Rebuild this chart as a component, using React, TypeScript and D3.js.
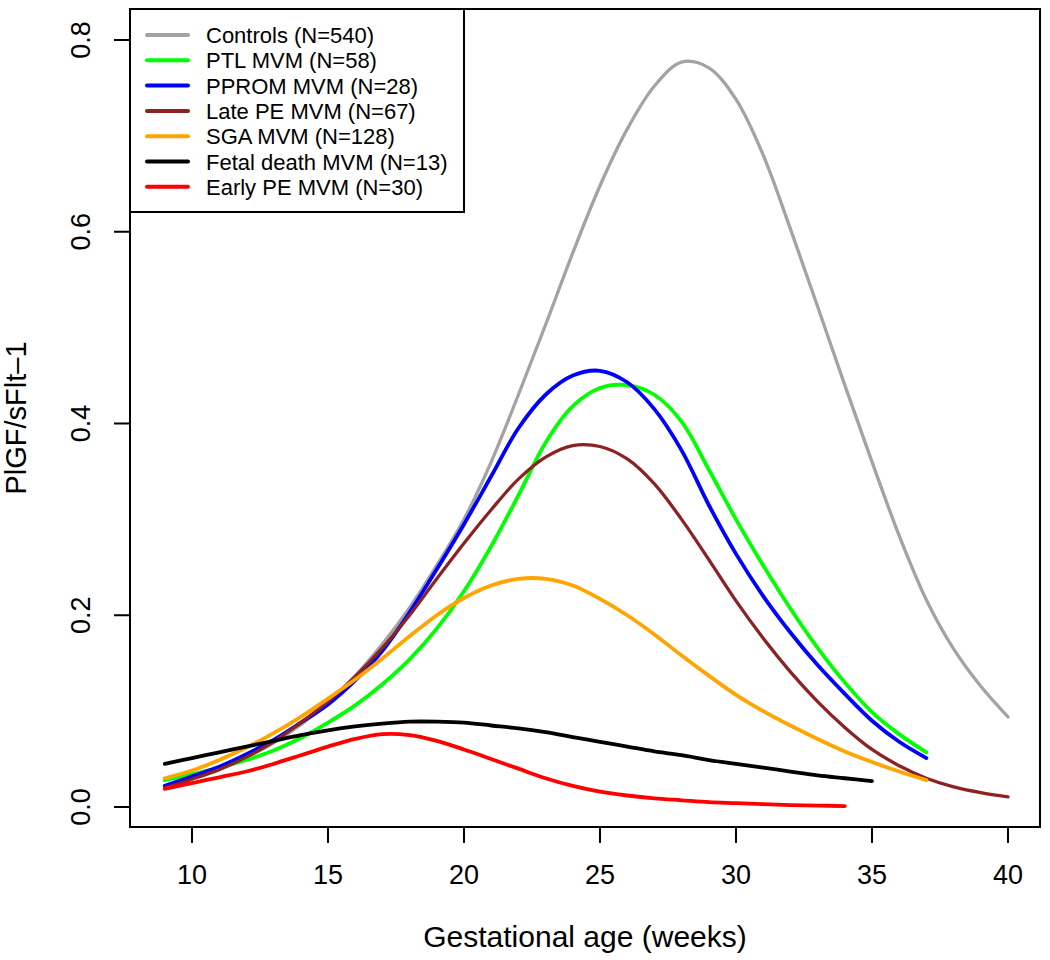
import * as d3 from "d3";

// gestational age (weeks) for the fitted curves
const weeks = [9, 10, 11, 12, 13, 14, 15, 16, 17, 18, 19, 20, 21, 22, 23, 24, 25, 26, 27, 28, 29, 30, 31, 32, 33, 34, 35, 36, 37, 38, 39, 40];

const controls = [0.022, 0.03, 0.04, 0.052, 0.067, 0.086, 0.109, 0.137, 0.17, 0.208, 0.252, 0.3, 0.36, 0.43, 0.503, 0.578, 0.648, 0.707, 0.752, 0.777, 0.771, 0.738, 0.68, 0.603, 0.522, 0.44, 0.36, 0.283, 0.216, 0.165, 0.126, 0.094];
const ptl = [0.028, 0.034, 0.041, 0.049, 0.059, 0.072, 0.088, 0.106, 0.128, 0.154, 0.186, 0.225, 0.272, 0.325, 0.38, 0.418, 0.437, 0.44, 0.43, 0.402, 0.352, 0.3, 0.252, 0.207, 0.166, 0.13, 0.099, 0.076, 0.057];
const pprom = [0.022, 0.032, 0.042, 0.055, 0.07, 0.088, 0.107, 0.132, 0.163, 0.203, 0.248, 0.295, 0.345, 0.395, 0.43, 0.45, 0.455, 0.443, 0.415, 0.372, 0.315, 0.264, 0.22, 0.182, 0.148, 0.118, 0.09, 0.068, 0.051];
const latePE = [0.02, 0.029, 0.039, 0.052, 0.068, 0.088, 0.11, 0.136, 0.166, 0.2, 0.238, 0.275, 0.31, 0.342, 0.365, 0.377, 0.376, 0.363, 0.337, 0.3, 0.258, 0.215, 0.176, 0.141, 0.11, 0.083, 0.06, 0.043, 0.03, 0.021, 0.015, 0.0105];
const sga = [0.03, 0.038, 0.049, 0.062, 0.077, 0.094, 0.113, 0.133, 0.155, 0.178, 0.2, 0.218, 0.231, 0.238, 0.238, 0.231, 0.217, 0.2, 0.18, 0.158, 0.137, 0.117, 0.1, 0.085, 0.071, 0.058, 0.047, 0.037, 0.028];
const fetalDeath = [0.045, 0.051, 0.057, 0.063, 0.069, 0.075, 0.08, 0.084, 0.087, 0.089, 0.089, 0.088, 0.085, 0.082, 0.078, 0.073, 0.068, 0.063, 0.058, 0.054, 0.049, 0.045, 0.041, 0.037, 0.033, 0.03, 0.027];
const earlyPE = [0.019, 0.025, 0.031, 0.037, 0.045, 0.054, 0.063, 0.071, 0.076, 0.075, 0.069, 0.06, 0.05, 0.04, 0.03, 0.022, 0.016, 0.012, 0.009, 0.007, 0.005, 0.004, 0.003, 0.002, 0.0015, 0.001];

const seriesNames = ["Controls (N=540)", "PTL MVM (N=58)", "PPROM MVM (N=28)", "Late PE MVM (N=67)", "SGA MVM (N=128)", "Fetal death MVM (N=13)", "Early PE MVM (N=30)"];
const seriesValues = [controls, ptl, pprom, latePE, sga, fetalDeath, earlyPE];
const seriesColors = ["#a3a3a3", "#00ff00", "#0000ff", "#8b2323", "#ffa500", "#000000", "#ff0000"];

const xTicks = [10, 15, 20, 25, 30, 35, 40];
const yTicks = [0, 0.2, 0.4, 0.6, 0.8];

const W = 1050;
const H = 960;
const box = { left: 130, right: 1040, top: 9, bottom: 827 };
const font = "'Liberation Sans', Arial, Helvetica, sans-serif";

export default function App() {
  const x = d3.scaleLinear().domain([10, 40]).range([192, 1008]);
  const y = d3.scaleLinear().domain([0, 0.8]).range([807, 40]);

  const line = d3
    .line<[number, number]>()
    .x((d) => x(d[0]))
    .y((d) => y(d[1]))
    .curve(d3.curveCatmullRom.alpha(0.5));

  const legendRowY = (i: number) => 35 + i * 25.3;

  return (
    <svg width={W} height={H} style={{ position: "absolute", left: 0, top: 0, background: "#fff" }} fontFamily={font}>
      {/* curves */}
      <g fill="none" strokeLinecap="round" strokeLinejoin="round">
        {seriesValues.map((vals, i) => (
          <path
            key={seriesNames[i]}
            d={line(vals.map((v, j) => [weeks[j], v] as [number, number])) ?? ""}
            stroke={seriesColors[i]}
            strokeWidth={i === 0 || i === 3 ? 3.3 : 3.8}
          />
        ))}
      </g>

      {/* plot box */}
      <rect
        x={box.left}
        y={box.top}
        width={box.right - box.left}
        height={box.bottom - box.top}
        fill="none"
        stroke="#000"
        strokeWidth={2}
      />

      {/* x axis */}
      <g>
        {xTicks.map((t) => (
          <g key={t}>
            <line x1={x(t)} x2={x(t)} y1={box.bottom} y2={box.bottom + 16} stroke="#000" strokeWidth={2} />
            <text x={x(t)} y={884} textAnchor="middle" fontSize={27}>
              {t}
            </text>
          </g>
        ))}
        <text x={(box.left + box.right) / 2} y={947} textAnchor="middle" fontSize={30}>
          Gestational age (weeks)
        </text>
      </g>

      {/* y axis */}
      <g>
        {yTicks.map((t) => (
          <g key={t}>
            <line x1={box.left - 16} x2={box.left} y1={y(t)} y2={y(t)} stroke="#000" strokeWidth={2} />
            <text transform={`translate(90,${y(t)}) rotate(-90)`} textAnchor="middle" fontSize={27}>
              {t.toFixed(1)}
            </text>
          </g>
        ))}
        <text transform={`translate(26,${(box.top + box.bottom) / 2}) rotate(-90)`} textAnchor="middle" fontSize={29}>
          PlGF/sFlt–1
        </text>
      </g>

      {/* legend */}
      <g>
        <rect x={box.left} y={box.top} width={334} height={203} fill="#fff" stroke="#000" strokeWidth={2} />
        {seriesNames.map((name, i) => (
          <g key={name}>
            <line
              x1={147}
              x2={188}
              y1={legendRowY(i)}
              y2={legendRowY(i)}
              stroke={seriesColors[i]}
              strokeWidth={4}
              strokeLinecap="round"
            />
            <text x={206} y={legendRowY(i) + 8} fontSize={22}>
              {name}
            </text>
          </g>
        ))}
      </g>
    </svg>
  );
}
